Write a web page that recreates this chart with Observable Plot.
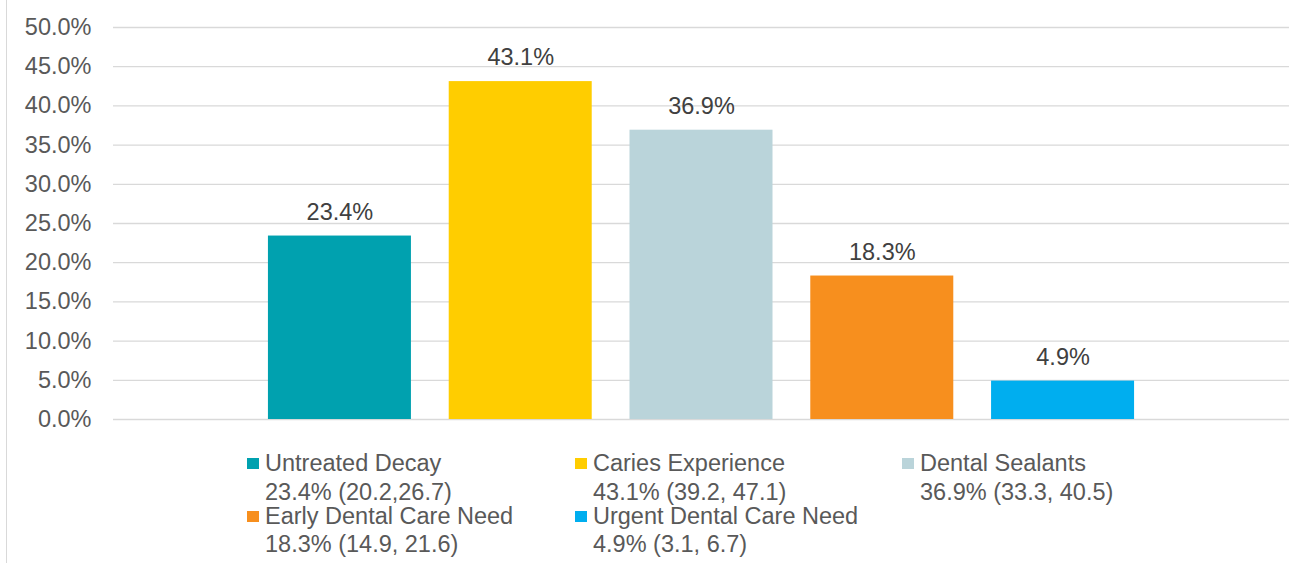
<!DOCTYPE html>
<html>
<head>
<meta charset="utf-8">
<script src="https://cdn.jsdelivr.net/npm/d3@7"></script>
<script src="https://cdn.jsdelivr.net/npm/@observablehq/plot@0.6"></script>
<style>
  html, body { margin: 0; padding: 0; background: #fff; overflow: hidden; }
  body { width: 1307px; height: 563px; position: relative; font-family: "Liberation Sans", Arial, sans-serif; }
  #frame { position: absolute; left: 6px; top: 0; width: 1.4px; height: 563px; background: #d9d9d9; }
  #chart { position: absolute; left: 0; top: 0; }
  #legend { position: absolute; left: 247px; top: 449px; display: grid; grid-template-columns: 328px 327px 300px; row-gap: 0; }
  .item { display: flex; align-items: flex-start; color: #595959; font-size: 23.5px; line-height: 28.5px; margin-bottom: -4.5px; }
  .sw { width: 12px; height: 11px; margin-top: 9px; margin-right: 6px; flex: none; }
</style>
</head>
<body>
<div id="frame"></div>
<div id="chart"></div>
<div id="legend"></div>
<script>
const categories = ["Untreated Decay", "Caries Experience", "Dental Sealants", "Early Dental Care Need", "Urgent Dental Care Need"];
const values = [23.4, 43.1, 36.9, 18.3, 4.9];
const ciText = ["23.4% (20.2,26.7)", "43.1% (39.2, 47.1)", "36.9% (33.3, 40.5)", "18.3% (14.9, 21.6)", "4.9% (3.1, 6.7)"];
const colors = ["#00A1AF", "#FFCD00", "#BAD4DA", "#F78F1E", "#00AEEF"];
const yTicks = [0, 5, 10, 15, 20, 25, 30, 35, 40, 45, 50];

const data = categories.map((name, i) => ({name, value: values[i], ci: ciText[i]}));
const pct = d => d.toFixed(1) + "%";

const chart = Plot.plot({
  width: 1307,
  height: 430,
  marginTop: 27,
  marginBottom: 11,
  marginLeft: 113,
  marginRight: 18,
  style: {fontFamily: "'Liberation Sans', Arial, sans-serif", fontSize: "23.5px", background: "transparent", overflow: "visible"},
  x: {domain: categories, paddingInner: 0.209, paddingOuter: 0.857, round: false, axis: null},
  y: {domain: [0, 50], axis: null},
  color: {domain: categories, range: colors},
  marks: [
    Plot.gridY(yTicks, {stroke: "#d9d9d9", strokeOpacity: 1, strokeWidth: 1.3}),
    Plot.axisY(yTicks, {tickSize: 0, tickPadding: 22, tickFormat: pct, color: "#595959", fontSize: 23.5, label: null}),
    Plot.barY(data, {x: "name", y: "value", fill: "name"}),
    Plot.text(data, {x: "name", y: "value", text: d => pct(d.value), dy: -24, lineAnchor: "middle", fill: "#404040", fontSize: 23.5})
  ]
});
document.getElementById("chart").appendChild(chart);

const legend = document.getElementById("legend");
data.forEach((d, i) => {
  const item = document.createElement("div");
  item.className = "item";
  const sw = document.createElement("span");
  sw.className = "sw";
  sw.style.background = colors[i];
  const txt = document.createElement("div");
  txt.innerHTML = d.name + "<br>" + d.ci;
  item.appendChild(sw);
  item.appendChild(txt);
  legend.appendChild(item);
});
</script>
</body>
</html>
